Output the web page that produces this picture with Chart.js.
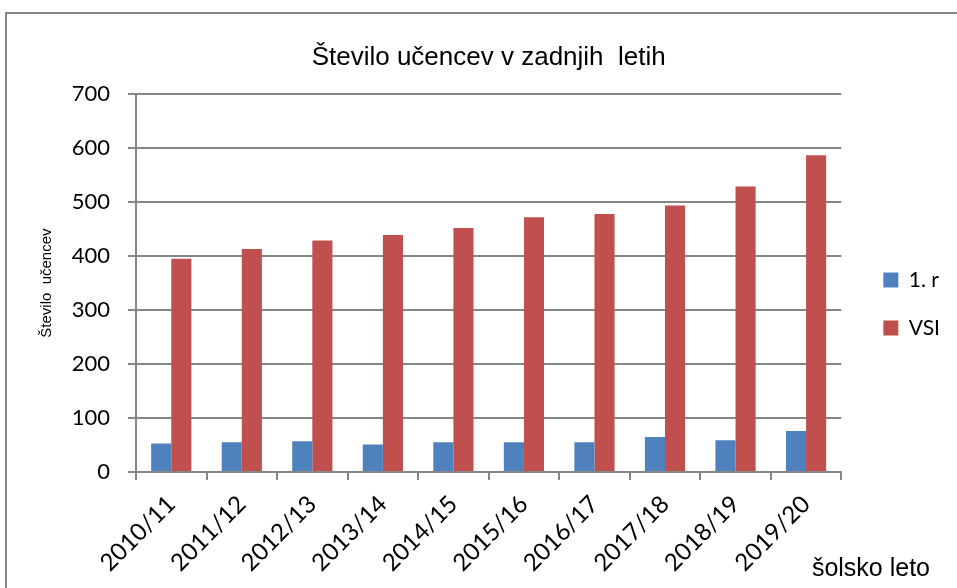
<!DOCTYPE html>
<html>
<head>
<meta charset="utf-8">
<script src="https://cdn.jsdelivr.net/npm/chart.js@4"></script>
<style>
  html, body { margin: 0; padding: 0; background: #fff; }
  #wrap { width: 957px; height: 588px; }
</style>
</head>
<body>
<div id="wrap"><canvas id="chart" width="957" height="588"></canvas></div>
<script>
// šolska leta in število učencev
const leta = ['2010/11', '2011/12', '2012/13', '2013/14', '2014/15', '2015/16', '2016/17', '2017/18', '2018/19', '2019/20'];
const prviRazred = [53, 55, 57, 51, 55, 55, 55, 65, 59, 76];
const vsiUcenci = [395, 413, 429, 439, 452, 472, 478, 494, 529, 587];
const yMin = 0;
const yMax = 700;
const yKorak = 100;

const siva = '#868686';
const tickFont = { family: 'Lato, "Open Sans", sans-serif', size: 22 };

// okvir grafa in napis osi x (desno spodaj)
const okvir = {
    id: 'okvir',
    beforeDraw(chart) {
        const c = chart.ctx;
        c.save();
        c.fillStyle = '#fff';
        c.fillRect(0, 0, chart.width, chart.height);
        c.strokeStyle = siva;
        c.lineWidth = 2;
        c.beginPath();
        c.moveTo(6, chart.height);
        c.lineTo(6, 13);
        c.lineTo(chart.width, 13);
        c.stroke();
        c.restore();
    },
    afterDraw(chart) {
        const c = chart.ctx;
        c.save();
        c.font = '25px "Liberation Sans", Arial, sans-serif';
        c.fillStyle = '#000';
        c.textAlign = 'right';
        c.textBaseline = 'alphabetic';
        c.fillText('šolsko leto', chart.width - 27, 576);
        c.restore();
    }
};

new Chart(document.getElementById('chart'), {
    type: 'bar',
    data: {
        labels: leta,
        datasets: [
            { label: '1. r', data: prviRazred, backgroundColor: '#4F81BD', borderWidth: 0 },
            { label: 'VSI', data: vsiUcenci, backgroundColor: '#C0504D', borderWidth: 0 }
        ]
    },
    options: {
        responsive: false,
        animation: false,
        datasets: { bar: { categoryPercentage: 0.57, barPercentage: 1.0 } },
        layout: { padding: { top: 20, right: 7, bottom: 0, left: 30 } },
        plugins: {
            tooltip: { enabled: false },
            title: {
                display: true,
                text: 'Število učencev v zadnjih  letih',
                fullSize: false,
                color: '#000',
                font: { family: '"Liberation Sans", Arial, sans-serif', size: 26, weight: 'normal' },
                padding: { top: 22, bottom: 21 }
            },
            legend: {
                position: 'right',
                labels: {
                    boxWidth: 15,
                    boxHeight: 15,
                    padding: 27,
                    color: '#000',
                    font: { family: 'Lato, "Open Sans", sans-serif', size: 21 }
                }
            }
        },
        scales: {
            x: {
                offset: true,
                grid: { display: true, drawOnChartArea: false, drawTicks: true, tickLength: 8, offset: true, color: siva, lineWidth: 2 },
                border: { display: true, color: siva, width: 2 },
                ticks: { minRotation: 45, maxRotation: 45, autoSkip: false, padding: 10, color: '#000', font: { family: tickFont.family, size: 24 } },
                afterFit(s) { s.height = 116; }
            },
            y: {
                min: yMin,
                max: yMax,
                ticks: { stepSize: yKorak, padding: 18, color: '#000', font: tickFont },
                grid: { color: siva, lineWidth: 2, tickLength: 8 },
                border: { display: true, color: siva, width: 2 },
                title: {
                    display: true,
                    text: 'Število  učencev',
                    color: '#000',
                    font: { family: '"Liberation Sans Narrow", "Liberation Sans", sans-serif', size: 15 },
                    padding: { top: 8, bottom: 0 }
                },
                afterFit(s) { s.width = 106; }
            },
            // prazna os, ki naredi razmik med grafom in legendo
            y2: {
                position: 'right',
                display: true,
                grid: { display: false },
                border: { display: false },
                ticks: { display: false },
                afterFit(s) { s.width = 15; }
            }
        }
    },
    plugins: [okvir]
});
</script>
</body>
</html>
